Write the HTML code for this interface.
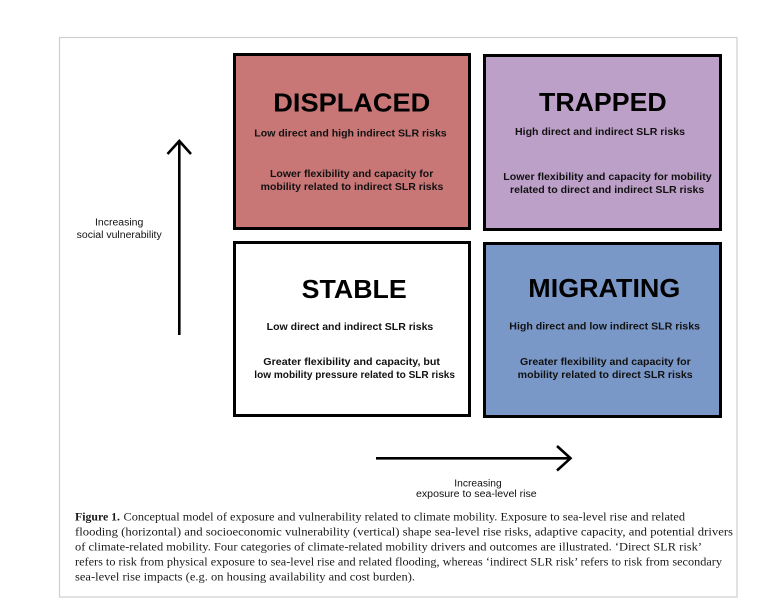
<!DOCTYPE html>
<html>
<head>
<meta charset="utf-8">
<style>
  html, body { margin: 0; padding: 0; background: #ffffff; }
  body { width: 762px; height: 609px; overflow: hidden; }
  svg { display: block; }
  .t { font-family: "Liberation Sans", Arial, sans-serif; font-weight: bold; fill: #000; }
  .s { font-family: "Liberation Sans", Arial, sans-serif; font-weight: bold; font-size: 10px; fill: #111; }
  .a { font-family: "Liberation Sans", Arial, sans-serif; font-size: 10px; fill: #111; }
  .c { font-family: "Liberation Serif", "Times New Roman", serif; font-size: 11.5px; fill: #1a1a1a; }
</style>
</head>
<body>
<svg width="762" height="609" viewBox="0 0 762 609" xmlns="http://www.w3.org/2000/svg">
  <rect x="0" y="0" width="762" height="609" fill="#ffffff"/>
  <!-- outer frame -->
  <rect x="59.5" y="37.5" width="677.5" height="559.5" fill="none" stroke="#cfcfcf" stroke-width="1.2"/>

  <!-- boxes -->
  <rect x="234.5" y="54.5" width="235" height="174" fill="#C87676" stroke="#000" stroke-width="3"/>
  <rect x="484.5" y="55.5" width="236" height="174" fill="#BDA0C8" stroke="#000" stroke-width="3"/>
  <rect x="234.5" y="242.5" width="235" height="173" fill="#FFFFFF" stroke="#000" stroke-width="3"/>
  <rect x="484.5" y="243.5" width="236" height="173" fill="#7A98C7" stroke="#000" stroke-width="3"/>

  <!-- DISPLACED -->
  <text class="t" x="273.3" y="111.5" font-size="26" textLength="157" lengthAdjust="spacingAndGlyphs">DISPLACED</text>
  <text class="s" x="254.3" y="136.5" textLength="192.4" lengthAdjust="spacingAndGlyphs">Low direct and high indirect SLR risks</text>
  <text class="s" x="270" y="177" textLength="163.3" lengthAdjust="spacingAndGlyphs">Lower flexibility and capacity for</text>
  <text class="s" x="260.7" y="190" textLength="182.6" lengthAdjust="spacingAndGlyphs">mobility related to indirect SLR risks</text>

  <!-- TRAPPED -->
  <text class="t" x="539" y="111" font-size="26" textLength="127.7" lengthAdjust="spacingAndGlyphs">TRAPPED</text>
  <text class="s" x="515" y="135" textLength="170" lengthAdjust="spacingAndGlyphs">High direct and indirect SLR risks</text>
  <text class="s" x="503.3" y="180" textLength="208.4" lengthAdjust="spacingAndGlyphs">Lower flexibility and capacity for mobility</text>
  <text class="s" x="510" y="193" textLength="194.3" lengthAdjust="spacingAndGlyphs">related to direct and indirect SLR risks</text>

  <!-- STABLE -->
  <text class="t" x="301.7" y="298" font-size="26" textLength="105" lengthAdjust="spacingAndGlyphs">STABLE</text>
  <text class="s" x="266.7" y="330" textLength="166.6" lengthAdjust="spacingAndGlyphs">Low direct and indirect SLR risks</text>
  <text class="s" x="263.3" y="365" textLength="176.7" lengthAdjust="spacingAndGlyphs">Greater flexibility and capacity, but</text>
  <text class="s" x="254.3" y="378" textLength="200.7" lengthAdjust="spacingAndGlyphs">low mobility pressure related to SLR risks</text>

  <!-- MIGRATING -->
  <text class="t" x="528.3" y="297" font-size="26" textLength="152" lengthAdjust="spacingAndGlyphs">MIGRATING</text>
  <text class="s" x="509.3" y="329.5" textLength="190.7" lengthAdjust="spacingAndGlyphs">High direct and low indirect SLR risks</text>
  <text class="s" x="520" y="365" textLength="170.7" lengthAdjust="spacingAndGlyphs">Greater flexibility and capacity for</text>
  <text class="s" x="517.7" y="378" textLength="175" lengthAdjust="spacingAndGlyphs">mobility related to direct SLR risks</text>

  <!-- vertical arrow -->
  <line x1="179.3" y1="335" x2="179.3" y2="142" stroke="#000" stroke-width="2.6"/>
  <polyline points="167.5,154 179.3,141 191,154" fill="none" stroke="#000" stroke-width="2.6" stroke-linejoin="miter"/>
  <text class="a" x="95" y="225.5" textLength="48.3" lengthAdjust="spacingAndGlyphs">Increasing</text>
  <text class="a" x="76.7" y="238" textLength="85" lengthAdjust="spacingAndGlyphs">social vulnerability</text>

  <!-- horizontal arrow -->
  <line x1="376" y1="458.3" x2="569" y2="458.3" stroke="#000" stroke-width="2.6"/>
  <polyline points="557,446 570.5,458.3 557,470.5" fill="none" stroke="#000" stroke-width="2.6" stroke-linejoin="miter"/>
  <text class="a" x="454.3" y="486.5" textLength="47.4" lengthAdjust="spacingAndGlyphs">Increasing</text>
  <text class="a" x="416" y="497" textLength="120.7" lengthAdjust="spacingAndGlyphs">exposure to sea-level rise</text>

  <!-- caption -->
  <text class="c" x="75" y="520.5" font-weight="bold" textLength="45" lengthAdjust="spacingAndGlyphs">Figure 1.</text>
  <text class="c" x="123.5" y="520.5" textLength="561.5" lengthAdjust="spacingAndGlyphs">Conceptual model of exposure and vulnerability related to climate mobility. Exposure to sea-level rise and related</text>
  <text class="c" x="75" y="535.5" textLength="658" lengthAdjust="spacingAndGlyphs">flooding (horizontal) and socioeconomic vulnerability (vertical) shape sea-level rise risks, adaptive capacity, and potential drivers</text>
  <text class="c" x="75" y="550.5" textLength="627" lengthAdjust="spacingAndGlyphs">of climate-related mobility. Four categories of climate-related mobility drivers and outcomes are illustrated. ‘Direct SLR risk’</text>
  <text class="c" x="75" y="565.5" textLength="647" lengthAdjust="spacingAndGlyphs">refers to risk from physical exposure to sea-level rise and related flooding, whereas ‘indirect SLR risk’ refers to risk from secondary</text>
  <text class="c" x="75" y="580.5" textLength="340" lengthAdjust="spacingAndGlyphs">sea-level rise impacts (e.g. on housing availability and cost burden).</text>
</svg>
</body>
</html>
